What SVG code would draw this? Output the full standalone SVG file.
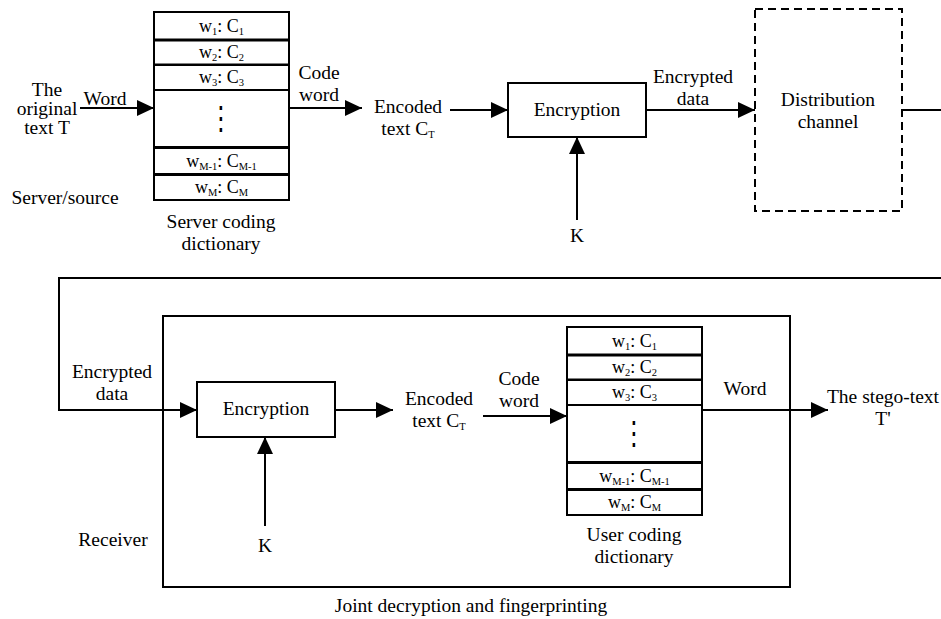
<svg xmlns="http://www.w3.org/2000/svg" width="941" height="619" viewBox="0 0 941 619">
<style>
text{font-family:"Liberation Serif","Times New Roman",serif;fill:#000;font-size:19.5px;text-anchor:middle}
.big{font-size:19.5px}
.ent{font-size:18px}
.sub{font-size:10.5px}
.box{fill:#fff;stroke:#000;stroke-width:2}
.cell{fill:#fff;stroke:#000;stroke-width:2}
.dash{fill:#fff;stroke:#000;stroke-width:2;stroke-dasharray:8,5}
.ln{fill:none;stroke:#000;stroke-width:2}
.dots{font-family:"DejaVu Serif",serif;font-size:24px}
</style>
<defs>
<marker id="ah" markerUnits="userSpaceOnUse" markerWidth="18" markerHeight="16" refX="17" refY="8" orient="auto">
<path d="M0,0 L17,8 L0,16 Z" fill="#000"/>
</marker>
<g id="dict">
<rect class="cell" x="0" y="0" width="135" height="27.5"/>
<rect class="cell" x="0" y="28.5" width="135" height="24"/>
<rect class="cell" x="0" y="53" width="135" height="25"/>
<rect class="cell" x="0" y="78" width="135" height="57"/>
<rect class="cell" x="0" y="136" width="135" height="26"/>
<rect class="cell" x="0" y="163" width="135" height="25"/>
<text class="ent" x="67.5" y="20">w<tspan class="sub" dy="3">1</tspan><tspan dy="-3">: C</tspan><tspan class="sub" dy="3">1</tspan></text>
<text class="ent" x="67.5" y="46">w<tspan class="sub" dy="3">2</tspan><tspan dy="-3">: C</tspan><tspan class="sub" dy="3">2</tspan></text>
<text class="ent" x="67.5" y="71">w<tspan class="sub" dy="3">3</tspan><tspan dy="-3">: C</tspan><tspan class="sub" dy="3">3</tspan></text>
<text class="dots" x="67.5" y="114" transform="translate(67.5,105) scale(1,1.35) translate(-67.5,-105)">⋮</text>
<text class="ent" x="67.5" y="155">w<tspan class="sub" dy="3">M-1</tspan><tspan dy="-3">: C</tspan><tspan class="sub" dy="3">M-1</tspan></text>
<text class="ent" x="67.5" y="181">w<tspan class="sub" dy="3">M</tspan><tspan dy="-3">: C</tspan><tspan class="sub" dy="3">M</tspan></text>
</g>
</defs>

<g id="joint-box">
<rect class="box" x="163" y="316" width="627" height="271" fill="none"/>
<text x="471" y="612">Joint decryption and fingerprinting</text>
</g>

<g id="connectors">
<path class="ln" d="M80,108 H154" marker-end="url(#ah)"/>
<path class="ln" d="M289,108 H362" marker-end="url(#ah)"/>
<path class="ln" d="M450,110 H508" marker-end="url(#ah)"/>
<path class="ln" d="M577,220 V137" marker-end="url(#ah)"/>
<path class="ln" d="M646,110 H755" marker-end="url(#ah)"/>
<path class="ln" d="M902,110 H941"/>
<path class="ln" d="M941,278 H59 V410 H197" marker-end="url(#ah)"/>
<path class="ln" d="M265,526 V437" marker-end="url(#ah)"/>
<path class="ln" d="M335,410 H393" marker-end="url(#ah)"/>
<path class="ln" d="M483,416 H567" marker-end="url(#ah)"/>
<path class="ln" d="M702,410 H828" marker-end="url(#ah)"/>
</g>

<g id="original-text">
<text x="47" y="96">The</text>
<text x="47" y="115">original</text>
<text x="47" y="134">text T</text>
</g>
<g id="labels-top">
<text x="105" y="105">Word</text>
<text x="65" y="204">Server/source</text>
<text x="319" y="79">Code</text>
<text x="319" y="101">word</text>
<text x="693" y="83">Encrypted</text>
<text x="693" y="105">data</text>
<text x="577" y="242">K</text>
</g>
<g id="server-dictionary">
<use href="#dict" x="154" y="12"/>
<text x="221" y="228">Server coding</text>
<text x="221" y="250">dictionary</text>
</g>
<g id="encoded-text-1">
<text x="408" y="113">Encoded</text>
<text x="408" y="135">text C<tspan class="sub" dy="3">T</tspan></text>
</g>
<g id="encryption-1">
<rect class="box" x="508" y="83" width="138" height="54"/>
<text class="big" x="577" y="116">Encryption</text>
</g>
<g id="distribution-channel">
<rect class="dash" x="755" y="9" width="147" height="202"/>
<text class="big" x="828" y="106">Distribution</text>
<text class="big" x="828" y="128">channel</text>
</g>

<g id="labels-bottom">
<text x="112" y="378">Encrypted</text>
<text x="112" y="400">data</text>
<text x="113" y="546">Receiver</text>
<text x="265" y="552">K</text>
<text x="519" y="385">Code</text>
<text x="519" y="407">word</text>
<text x="745" y="395">Word</text>
</g>
<g id="encryption-2">
<rect class="box" x="197" y="382" width="138" height="55"/>
<text class="big" x="266" y="415">Encryption</text>
</g>
<g id="encoded-text-2">
<text x="439" y="405">Encoded</text>
<text x="439" y="427">text C<tspan class="sub" dy="3">T</tspan></text>
</g>
<g id="user-dictionary">
<use href="#dict" x="567" y="327"/>
<text x="634" y="541">User coding</text>
<text x="634" y="563">dictionary</text>
</g>
<g id="stego-text">
<text x="883" y="403">The stego-text</text>
<text x="883" y="425">T'</text>
</g>
</svg>
